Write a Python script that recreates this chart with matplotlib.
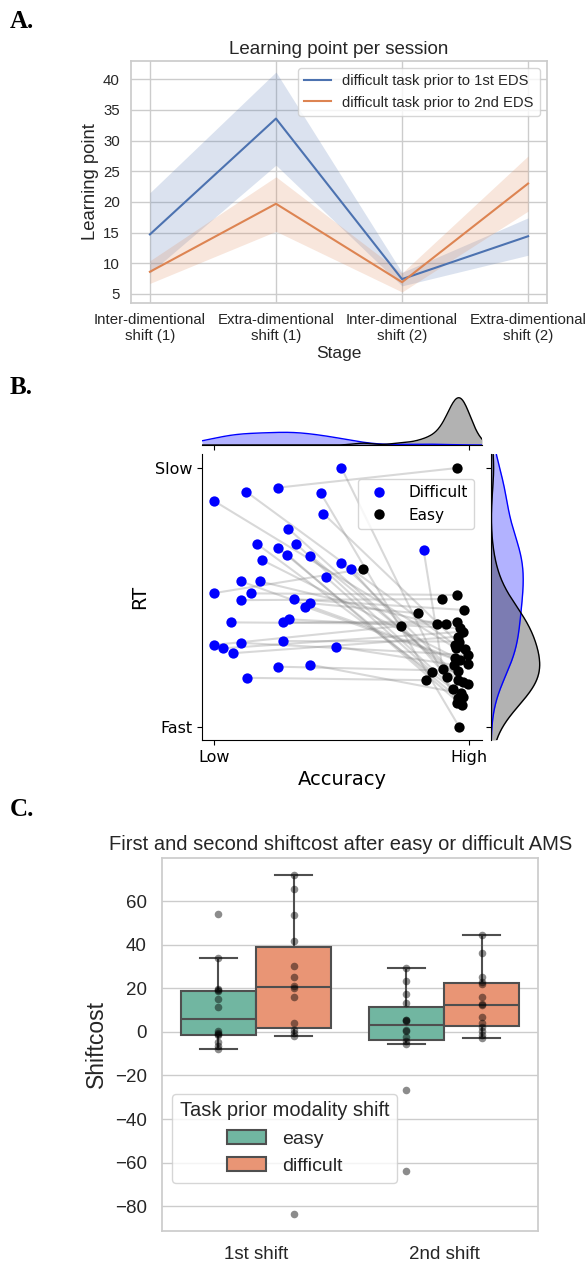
import numpy as np
import matplotlib
matplotlib.use("Agg")
import matplotlib.pyplot as plt
from matplotlib.lines import Line2D
from matplotlib.patches import Patch

plt.rcParams['font.family'] = ['Liberation Sans', 'DejaVu Sans']

# ---- panel A: learning point per stage (mean and CI band) ----
stages = ['Inter-dimentional\nshift (1)', 'Extra-dimentional\nshift (1)',
          'Inter-dimentional\nshift (2)', 'Extra-dimentional\nshift (2)']
first_mean = [14.7, 33.6, 7.4, 14.4]
first_lo = [8.4, 26.0, 6.3, 11.3]
first_hi = [21.5, 41.2, 8.5, 17.4]
second_mean = [8.6, 19.7, 6.9, 23.0]
second_lo = [6.7, 15.2, 5.3, 18.5]
second_hi = [10.4, 24.1, 8.4, 27.5]

# ---- panel B: accuracy vs RT per participant (0 = Low/Fast, 1 = High/Slow) ----
diff_acc = [0.50, 0.25, 0.127, 0.0, 0.418, 0.429, 0.292, 0.17, 0.25, 0.323,
            0.288, 0.377, 0.188, 0.50, 0.537, 0.439, 0.107, 0.181, 0.822, 0.0,
            0.144, 0.106, 0.315, 0.376, 0.357, 0.065, 0.272, 0.294, 0.0, 0.037,
            0.073, 0.106, 0.272, 0.478, 0.25, 0.376, 0.128]
diff_rt = [1.0, 0.924, 0.908, 0.873, 0.904, 0.824, 0.765, 0.706, 0.693, 0.706,
           0.666, 0.662, 0.645, 0.634, 0.610, 0.579, 0.562, 0.562, 0.683, 0.517,
           0.516, 0.490, 0.493, 0.478, 0.465, 0.404, 0.404, 0.416, 0.317, 0.304,
           0.285, 0.325, 0.332, 0.310, 0.233, 0.241, 0.190]
easy_acc = [0.952, 0.954, 0.945, 0.949, 0.962, 0.985, 0.958, 0.938, 0.958, 0.978,
            0.971, 0.997, 0.965, 0.978, 0.915, 0.854, 0.945, 0.873, 0.897, 0.586,
            0.954, 0.893, 0.982, 0.801, 0.997, 0.910, 0.954, 0.965, 0.732, 0.978,
            0.958, 0.997, 0.962, 0.940, 0.958, 0.970, 0.831]
easy_rt = [0.092, 1.0, 0.317, 0.304, 0.0, 0.300, 0.181, 0.147, 0.111, 0.115,
           0.085, 0.166, 0.259, 0.175, 0.194, 0.214, 0.265, 0.398, 0.223, 0.610,
           0.510, 0.494, 0.452, 0.439, 0.243, 0.398, 0.407, 0.381, 0.390, 0.368,
           0.349, 0.278, 0.330, 0.240, 0.217, 0.130, 0.181]

# ---- panel C: shift cost ----
shift_labels = ['1st shift', '2nd shift']
easy_1st = [54.0, 34.1, 19.6, 19.0, 18.6, 15.3, 11.2, 0.3, -0.6, -0.9, -1.5, -4.5, -6.3, -7.9]
difficult_1st = [72.0, 65.4, 53.5, 41.6, 30.1, 25.2, 21.0, 20.0, 16.1, 4.2, 0.8, -0.3, -1.8, -83.6]
easy_2nd = [29.1, 23.3, 17.2, 13.3, 5.6, 5.3, 5.0, 1.0, 0.5, -2.2, -4.0, -5.6, -26.8, -63.7]
difficult_2nd = [44.4, 36.3, 25.0, 22.8, 21.8, 16.2, 12.7, 12.3, 6.6, 4.0, 2.3, 0.5, -1.3, -3.0]

BLUE_A, ORANGE_A = '#4c72b0', '#dd8452'
EASY_C, DIFF_C = '#71b6a1', '#e99575'
TXT = '#262626'
GRID = '#cccccc'

W, H = 587, 1265
fig = plt.figure(figsize=(W / 100, H / 100), dpi=100)


def rect(l, t, r, b):
    return [l / W, 1 - b / H, (r - l) / W, (b - t) / H]


def whitegrid(ax):
    ax.set_facecolor('white')
    for s in ax.spines.values():
        s.set_color(GRID)
        s.set_linewidth(1.25)
    ax.grid(True, color=GRID, lw=1)
    ax.set_axisbelow(True)
    ax.tick_params(length=0, colors=TXT)


def kde(values, grid):
    v = np.asarray(values)
    bw = v.std(ddof=1) * len(v) ** (-1 / 5)
    z = (grid[:, None] - v[None, :]) / bw
    return np.exp(-0.5 * z ** 2).sum(1) / (len(v) * bw * np.sqrt(2 * np.pi))


# panel labels
for lab, y in [('A.', 21), ('B.', 388), ('C.', 810)]:
    fig.text(10 / W, 1 - y / H, lab, fontsize=18, fontweight='bold',
             family='Liberation Serif', va='center', ha='left')

# ================= A =================
axA = fig.add_axes(rect(131, 61, 547, 303))
whitegrid(axA)
x = np.arange(len(stages))
axA.fill_between(x, first_lo, first_hi, color=BLUE_A, alpha=0.2, lw=0)
axA.fill_between(x, second_lo, second_hi, color=ORANGE_A, alpha=0.2, lw=0)
axA.plot(x, first_mean, color=BLUE_A, lw=1.5, label='difficult task prior to 1st EDS')
axA.plot(x, second_mean, color=ORANGE_A, lw=1.5, label='difficult task prior to 2nd EDS')
axA.set_xticks(x, stages)
axA.set_yticks(range(5, 41, 5))
axA.tick_params(axis='x', labelsize=10.8, pad=7)
axA.tick_params(axis='y', labelsize=10.8, pad=8)
axA.set_xlabel('Stage', fontsize=12.5, color=TXT, labelpad=2)
axA.set_ylabel('Learning point', fontsize=13.3, color=TXT, labelpad=3)
axA.set_title('Learning point per session', fontsize=13.5, color=TXT, pad=5)
legA = axA.legend(loc='upper right', fontsize=10.6, frameon=True, edgecolor=GRID,
                  handlelength=1.8)
for t in legA.get_texts():
    t.set_color(TXT)

# ================= B =================
axB = fig.add_axes(rect(202, 454, 482, 740))
axTop = fig.add_axes(rect(202, 393, 482, 445))
axRight = fig.add_axes(rect(491, 454, 547, 740))

for i in range(len(diff_acc)):
    axB.plot([diff_acc[i], easy_acc[i]], [diff_rt[i], easy_rt[i]],
             color='gray', alpha=0.3, lw=1.5, zorder=1)
axB.scatter(diff_acc, diff_rt, s=55, color='blue', lw=0, zorder=2)
axB.scatter(easy_acc, easy_rt, s=55, color='black', lw=0, zorder=3)
axB.set_xlim(-0.047, 1.051)
axB.set_ylim(-0.05, 1.054)
axB.set_xticks([0, 1], ['Low', 'High'], fontsize=11.5, family='DejaVu Sans')
axB.set_yticks([0, 1], ['Fast', 'Slow'], fontsize=11.5, family='DejaVu Sans')
axB.set_xlabel('Accuracy', fontsize=14, family='DejaVu Sans')
axB.set_ylabel('RT', fontsize=14, family='DejaVu Sans')
axB.spines['top'].set_visible(False)
axB.spines['right'].set_visible(False)
handles = [Line2D([], [], ls='none', marker='o', ms=7.5, color='blue', mec='none'),
           Line2D([], [], ls='none', marker='o', ms=7.5, color='black', mec='none')]
axB.legend(handles, ['Difficult', 'Easy'], loc='upper right',
           bbox_to_anchor=(0.971, 0.913), borderaxespad=0, handletextpad=0.9,
           prop={'family': 'DejaVu Sans', 'size': 11})

gx = np.linspace(-0.047, 1.051, 300)
d_top = kde(diff_acc, gx)
e_top = kde(easy_acc, gx)
axTop.fill_between(gx, 0, d_top, color='blue', alpha=0.3, lw=0)
axTop.plot(gx, d_top, color='blue', lw=1)
axTop.fill_between(gx, 0, e_top, color='black', alpha=0.3, lw=0)
axTop.plot(gx, e_top, color='black', lw=1)
axTop.set_xlim(-0.047, 1.051)
axTop.set_ylim(0, max(d_top.max(), e_top.max()) * 1.1)
axTop.set_xticks([0, 1], ['', ''])
axTop.set_yticks([])
for s in ['top', 'right', 'left']:
    axTop.spines[s].set_visible(False)

gy = np.linspace(-0.05, 1.054, 300)
d_r = kde(diff_rt, gy)
e_r = kde(easy_rt, gy)
axRight.fill_betweenx(gy, 0, d_r, color='blue', alpha=0.3, lw=0)
axRight.plot(d_r, gy, color='blue', lw=1)
axRight.fill_betweenx(gy, 0, e_r, color='black', alpha=0.3, lw=0)
axRight.plot(e_r, gy, color='black', lw=1)
axRight.set_ylim(-0.05, 1.054)
axRight.set_xlim(0, max(d_r.max(), e_r.max()) * 1.15)
axRight.set_yticks([0, 1], ['', ''])
axRight.set_xticks([])
for s in ['top', 'right', 'bottom']:
    axRight.spines[s].set_visible(False)

# ================= C =================
axC = fig.add_axes(rect(162, 858, 538, 1231))
whitegrid(axC)
axC.grid(False, axis='x')
groups = [(easy_1st, -0.2, EASY_C), (difficult_1st, 0.2, DIFF_C),
          (easy_2nd, 0.8, EASY_C), (difficult_2nd, 1.2, DIFF_C)]
LINE = '#4f4f4f'
for vals, pos, col in groups:
    axC.boxplot(vals, positions=[pos], widths=0.4, patch_artist=True,
                showfliers=False, whis=1.5, capwidths=0.2,
                boxprops=dict(facecolor=col, edgecolor=LINE, lw=1.5),
                medianprops=dict(color=LINE, lw=1.5),
                whiskerprops=dict(color=LINE, lw=1.5),
                capprops=dict(color=LINE, lw=1.5), zorder=2)
    axC.scatter(np.full(len(vals), pos), vals, s=30, color='black',
                alpha=0.45, lw=0, zorder=3)
axC.set_xlim(-0.5, 1.5)
axC.set_xticks([0, 1], shift_labels)
axC.set_yticks(range(-80, 61, 20))
axC.tick_params(axis='both', labelsize=13.5, pad=11)
axC.set_ylabel('Shiftcost', fontsize=16.5, color=TXT, labelpad=5)
axC.set_title('First and second shiftcost after easy or difficult AMS',
              fontsize=14.5, color=TXT, pad=6, x=0.475)
legC = axC.legend([Patch(facecolor=EASY_C, edgecolor=LINE, lw=1.5),
                   Patch(facecolor=DIFF_C, edgecolor=LINE, lw=1.5)],
                  ['easy', 'difficult'], title='Task prior modality shift',
                  loc='lower left', bbox_to_anchor=(0.027, 0.129), borderaxespad=0,
                  fontsize=14, title_fontsize=14.4, edgecolor=GRID)
for t in legC.get_texts():
    t.set_color(TXT)
legC.get_title().set_color(TXT)

fig.savefig('out.png', dpi=100)
